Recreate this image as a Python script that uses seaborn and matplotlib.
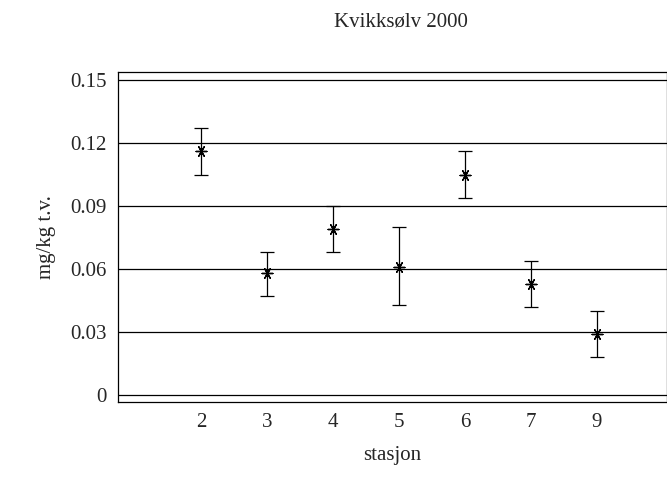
import matplotlib
matplotlib.use('Agg')
import matplotlib.pyplot as plt
import seaborn as sns
import pandas as pd

stasjon = ['2', '3', '4', '5', '6', '7', '9']
verdi = [0.116, 0.058, 0.079, 0.061, 0.105, 0.053, 0.029]
ovre = [0.127, 0.068, 0.090, 0.080, 0.116, 0.064, 0.040]
nedre = [0.105, 0.047, 0.068, 0.043, 0.094, 0.042, 0.018]

df = pd.DataFrame({'stasjon': stasjon, 'verdi': verdi})

sns.set_style('white')
plt.rcParams['font.family'] = ['Liberation Serif', 'DejaVu Serif']
plt.rcParams['font.size'] = 15

fig = plt.figure(figsize=(6.67, 4.79), dpi=100)
ax = fig.add_axes([118 / 667, 1 - 402 / 479, 549 / 667, 330 / 479])

x = list(range(len(stasjon)))
yerr = [[v - n for v, n in zip(verdi, nedre)], [o - v for v, o in zip(verdi, ovre)]]
ax.errorbar(x, verdi, yerr=yerr, fmt='none', ecolor='black', elinewidth=0.9, capsize=5, capthick=0.9)
sns.scatterplot(data=df, x=x, y='verdi', marker=(6, 2, 90), s=60, color='black', linewidth=1, ax=ax)

for yv in [0, 0.03, 0.06, 0.09, 0.12, 0.15]:
    ax.axhline(yv, color='black', lw=0.9, zorder=0)

ax.set_xlim(-1.26, 7.06)
ax.set_ylim(-0.0033, 0.1538)
ax.set_xticks(x)
ax.set_xticklabels(stasjon)
ax.set_yticks([0, 0.03, 0.06, 0.09, 0.12, 0.15])
ax.set_yticklabels(['0', '0.03', '0.06', '0.09', '0.12', '0.15'])
ax.tick_params(length=0, pad=8)
for s in ax.spines.values():
    s.set_linewidth(0.9)
    s.set_color('black')
ax.set_xlabel('stasjon', labelpad=10)
ax.set_ylabel('mg/kg t.v.', labelpad=10)
ax.set_title('Kvikksølv 2000', fontsize=15, pad=33, x=0.515)

fig.savefig('out.png', dpi=100)
